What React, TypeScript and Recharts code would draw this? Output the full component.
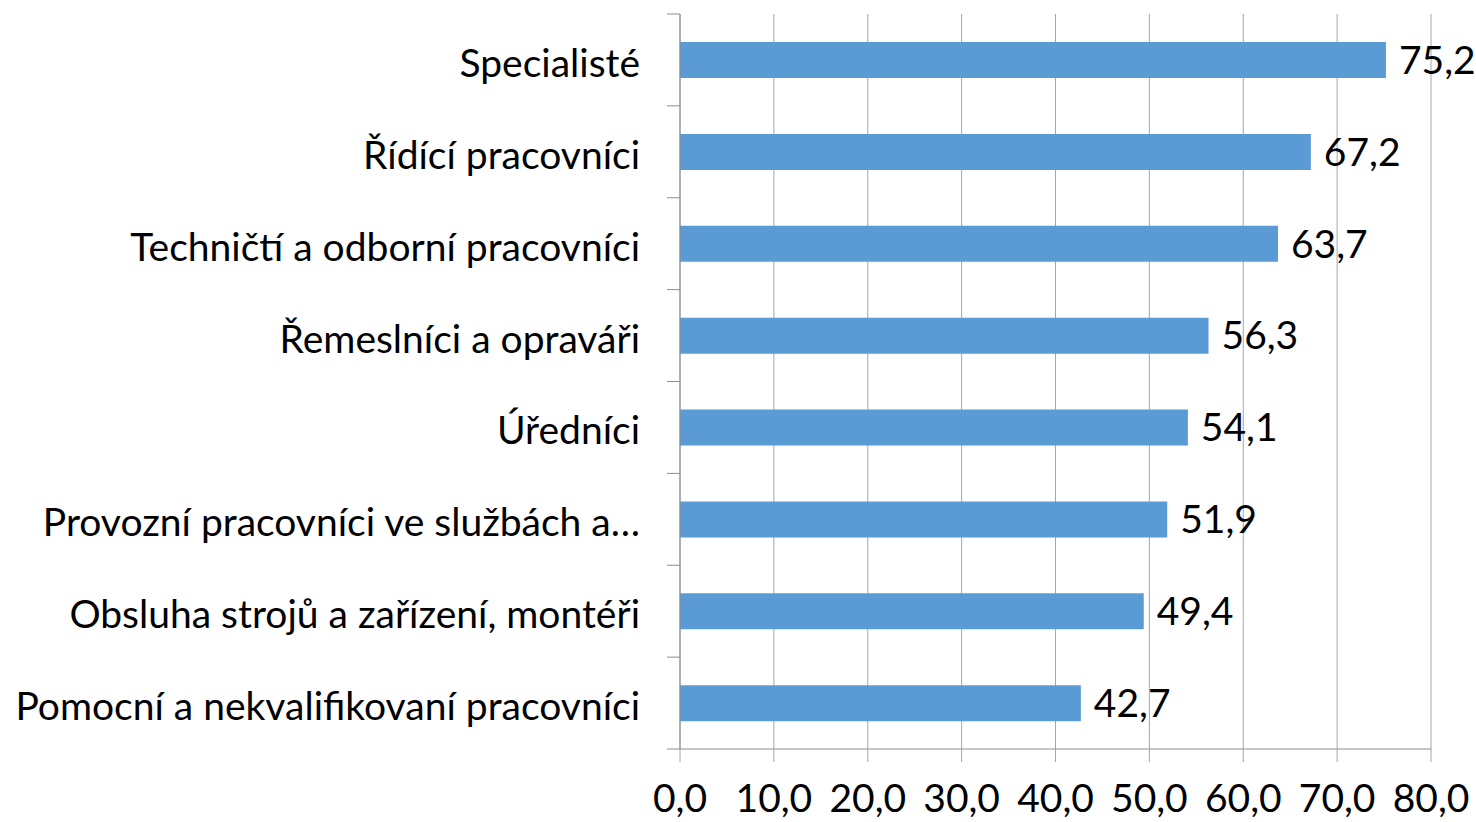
import { BarChart, Bar, XAxis, YAxis, CartesianGrid, LabelList } from "recharts";

const categories = [
  "Specialisté",
  "Řídící pracovníci",
  "Techničtí a odborní pracovníci",
  "Řemeslníci a opraváři",
  "Úředníci",
  "Provozní pracovníci ve službách a…",
  "Obsluha strojů a zařízení, montéři",
  "Pomocní a nekvalifikovaní pracovníci",
];
const values = [75.2, 67.2, 63.7, 56.3, 54.1, 51.9, 49.4, 42.7];
const xTicks = [0, 10, 20, 30, 40, 50, 60, 70, 80];

const WIDTH = 1476;
const HEIGHT = 822;
const MARGIN = { top: 14, right: 45, bottom: 0, left: 0 };
const X_AXIS_H = 73;
const Y_AXIS_W = 680;
const TICK_SIZE = 13;
const TICK_MARGIN = 27;
const BAND = (HEIGHT - MARGIN.top - MARGIN.bottom - X_AXIS_H) / categories.length;
const FONT = "Lato, 'Open Sans', sans-serif";
const FONT_SIZE = 39;
const AXIS_COLOR = "#8C8C8C";
const GRID_COLOR = "#A6A6A6";
const BAR_COLOR = "#5B9BD5";

const data = categories.map((name, i) => ({ name, value: values[i] }));

const fmt = (v: number) => v.toFixed(1).replace(".", ",");

// tick kategorie: text + čárka na hranici pásma (jako v Excelu)
function CategoryTick(props: any) {
  const { x, y, payload, index } = props;
  const lx1 = x + TICK_MARGIN;
  const lx2 = lx1 + TICK_SIZE;
  return (
    <g>
      <text
        x={x}
        y={y + 2}
        textAnchor="end"
        dominantBaseline="central"
        fontSize={FONT_SIZE}
        fontFamily={FONT}
        fill="#000"
      >
        {payload.value}
      </text>
      <line x1={lx1} x2={lx2} y1={y - BAND / 2} y2={y - BAND / 2} stroke={AXIS_COLOR} />
      {index === categories.length - 1 && (
        <line x1={lx1} x2={lx2} y1={y + BAND / 2} y2={y + BAND / 2} stroke={AXIS_COLOR} />
      )}
    </g>
  );
}

export default function App() {
  return (
    <div style={{ position: "fixed", left: 0, top: 0, width: WIDTH, height: HEIGHT, background: "#fff" }}>
      <BarChart width={WIDTH} height={HEIGHT} data={data} layout="vertical" margin={MARGIN}>
        <CartesianGrid horizontal={false} stroke={GRID_COLOR} />
        <XAxis
          type="number"
          domain={[0, 80]}
          ticks={xTicks}
          tickFormatter={fmt}
          height={X_AXIS_H}
          tickSize={TICK_SIZE}
          tickMargin={22}
          axisLine={{ stroke: AXIS_COLOR }}
          tickLine={{ stroke: GRID_COLOR }}
          tick={{ fill: "#000", fontSize: FONT_SIZE, fontFamily: FONT }}
          interval={0}
        />
        <YAxis
          type="category"
          dataKey="name"
          width={Y_AXIS_W}
          tickSize={TICK_SIZE}
          tickMargin={TICK_MARGIN}
          tickLine={false}
          axisLine={{ stroke: AXIS_COLOR }}
          tick={<CategoryTick />}
          interval={0}
        />
        <Bar dataKey="value" fill={BAR_COLOR} barSize={36} isAnimationActive={false}>
          <LabelList
            dataKey="value"
            position="right"
            offset={13}
            formatter={(v: any) => fmt(Number(v))}
            fill="#000"
            fontSize={FONT_SIZE}
            fontFamily={FONT}
          />
        </Bar>
      </BarChart>
    </div>
  );
}
